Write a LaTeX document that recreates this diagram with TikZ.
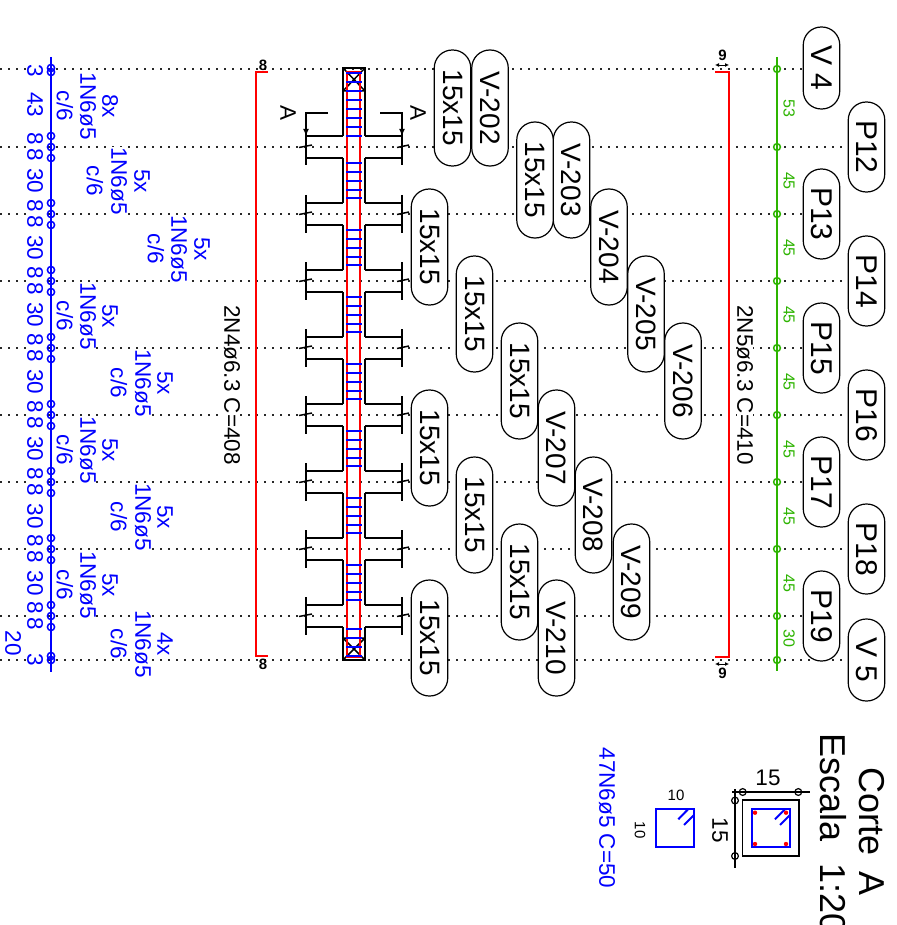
\documentclass[tikz,border=0pt]{standalone}
\usepackage{fontspec}
\setmainfont{Liberation Sans}
\usetikzlibrary{arrows.meta}
\pgfdeclarelayer{bg}
\pgfsetlayers{bg,main}
\definecolor{cadgreen}{RGB}{45,180,0}
\definecolor{dotgrey}{RGB}{40,40,40}
\tikzset{
  pill/.style n args={1}{draw=black,fill=white,line width=1.2pt,rounded corners=18pt,minimum height=36.5pt,minimum width=#1,inner sep=0pt,rotate=-90,font=\fontsize{28}{28}\selectfont},
  bigpill/.style n args={1}{pill=#1,font=\fontsize{30}{30}\selectfont},
  bluetxt/.style={text=blue,fill=white,inner sep=0pt,rotate=-90,font=\fontsize{22.5}{22.5}\selectfont},
  blacktxt/.style={text=black,fill=white,inner sep=0pt,rotate=-90,font=\fontsize{22.5}{22.5}\selectfont},
  greentxt/.style={text=cadgreen,inner sep=0pt,rotate=-90,font=\fontsize{16}{16}\selectfont},
  smalltxt/.style={text=black,inner sep=0pt,font=\fontsize{15}{15}\selectfont},
  axisdot/.style={dotgrey,line width=1.4pt,dash pattern=on 1.5pt off 6.5pt},
  struct/.style={black,line width=1.5pt},
  rebar/.style={red,line width=1.7pt},
  stirrup/.style={blue,line width=2pt},
  bluedim/.style={blue,line width=1.5pt},
  greendim/.style={cadgreen,line width=1.5pt},
}
\begin{document}
\begin{tikzpicture}[x=1pt,y=-1pt]
\useasboundingbox (0,0) rectangle (896,925);
% pillars and walls
\node[bigpill=82pt] (V4) at (821.5,68) {V 4};
\node[bigpill=90pt] (P12) at (866.5,147) {P12};
\node[bigpill=90pt] (P13) at (821.5,214) {P13};
\node[bigpill=90pt] (P14) at (866.5,281) {P14};
\node[bigpill=90pt] (P15) at (821.5,348) {P15};
\node[bigpill=90pt] (P16) at (866.5,415) {P16};
\node[bigpill=90pt] (P17) at (821.5,482) {P17};
\node[bigpill=90pt] (P18) at (866.5,549) {P18};
\node[bigpill=90pt] (P19) at (821.5,616) {P19};
\node[bigpill=82pt] (V5) at (866.5,660) {V 5};
% beams
\foreach \n/\tx/\px/\py in {202/V-202/490/108, 203/V-203/571.5/180, 204/V-204/609/247, 205/V-205/646/314, 206/V-206/683/381, 207/V-207/556.5/448, 208/V-208/593.5/515, 209/V-209/631.5/582, 210/V-210/556.5/638}
  \node[pill=116pt] (B\n) at (\px,\py) {\tx};
\foreach \n/\px/\py in {a/452.5/108, b/535/180, c/429.5/247, d/474.5/314, e/519.5/381, f/429.5/448, g/474.5/515, h/519.5/582, i/429.5/638}
  \node[pill=116pt] (S\n) at (\px,\py) {15x15};
% blue rebar text
\node[bluetxt] (t3a) at (35,71) {3};
\node[bluetxt] (t43) at (35,105) {43};
\foreach \r in {147,214,281,348,415,482,549,616}
  \node[bluetxt] (e\r) at (35,\r) {8\hspace{3pt}8};
\foreach \r in {181,248,315,382,449,516,583}
  \node[bluetxt] (th\r) at (35,\r) {30};
\node[bluetxt] (t3b) at (35,660) {3};
\node[bluetxt] (t20) at (13,643) {20};
\foreach \k/\cnt/\xa/\xb/\xc/\py in {1/8x/110/88/65/106, 2/5x/142/119/95/181, 3/5x/202/179/156/249, 4/5x/110/88/65/316, 5/5x/165/143/119/383, 6/5x/110/88/65/450, 7/5x/165/143/119/517, 8/5x/110/88/65/585, 9/4x/165/143/119/644} {
  \node[bluetxt] (ga\k) at (\xa,\py) {\cnt};
  \node[bluetxt] (gb\k) at (\xb,\py) {1N6ø5};
  \node[bluetxt] (gc\k) at (\xc,\py) {c/6};
}
% long labels
\node[blacktxt] (lbl408) at (232,385) {2N4ø6.3 C=408};
\node[blacktxt] (lbl410) at (745,385) {2N5ø6.3 C=410};
\node[smalltxt,font=\fontsize{15}{15}\selectfont\bfseries] (e8a) at (263,65) {8};
\node[smalltxt,font=\fontsize{15}{15}\selectfont\bfseries] (e8b) at (263,664) {8};
\node[smalltxt,font=\fontsize{15}{15}\selectfont\bfseries] (n9a) at (722.5,55) {9};
\node[smalltxt,font=\fontsize{15}{15}\selectfont\bfseries] (n9b) at (722.5,673) {9};
\node[blacktxt,fill=none] (secA1) at (288,113) {A};
\node[blacktxt,fill=none] (secA2) at (418,113) {A};
% green dims
\foreach \py/\tx in {108.5/53,181/45,248/45,315/45,382/45,449/45,516/45,583/45,638/30}
  \node[greentxt] (g\py) at (789,\py) {\tx};
% axis lines
\foreach \r/\p in {69/V4,147/P12,214/P13,281/P14,348/P15,415/P16,482/P17,549/P18,616/P19,660/V5} {
  \coordinate (ax\r) at (0,\r);
}
\begin{pgfonlayer}{bg}
\fill[white] (0,0) rectangle (896,925);
\draw[axisdot] (ax69) -- (ax69 -| V4.south);
\draw[axisdot] (ax147) -- (P12.south);
\draw[axisdot] (ax214) -- (P13.south);
\draw[axisdot] (ax281) -- (P14.south);
\draw[axisdot] (ax348) -- (P15.south);
\draw[axisdot] (ax415) -- (P16.south);
\draw[axisdot] (ax482) -- (P17.south);
\draw[axisdot] (ax549) -- (P18.south);
\draw[axisdot] (ax616) -- (P19.south);
\draw[axisdot] (ax660) -- (ax660 -| V5.south);
\end{pgfonlayer}
% structure outline
\draw[struct] (343,136) -- (343,68) -- (365,68) -- (365,136);
\draw[struct] (343,91) -- (365,68) (343,68) -- (365,91) (343,91) -- (365,91);
\draw[struct] (343,638) -- (365,638) (343,660) -- (365,638) (343,638) -- (365,660);
\draw[struct] (343,627) -- (343,660) -- (365,660) -- (365,627);
\foreach \r in {147,214,281,348,415,482,549,616} {
  \draw[struct] (343,\r-11) -- (306,\r-11) (343,\r+11) -- (306,\r+11);
  \draw[struct] (365,\r-11) -- (402,\r-11) (365,\r+11) -- (402,\r+11);
  \draw[struct,line width=1.5pt] (299,\r+0.5) -- (312,\r-2);
  \draw[struct,line width=1.5pt] (397,\r+0.5) -- (409,\r-2);
}
\foreach \r in {214,281,348,415,482,549,616} {
  \draw[struct] (306,\r-19) -- (306,\r+19);
  \draw[struct] (402,\r-19) -- (402,\r+19);
}
\foreach \a/\b in {158/203,225/270,292/337,359/404,426/471,493/538,560/605} {
  \draw[struct] (343,\a) -- (343,\b);
  \draw[struct] (365,\a) -- (365,\b);
}
% section marks
\draw[struct] (328,113) -- (306,113) -- (306,165);
\draw[struct] (380,113) -- (402,113) -- (402,165);
\draw[struct,-{Latex[length=7pt,width=6pt]}] (306,120) -- (306,136);
\draw[struct,-{Latex[length=7pt,width=6pt]}] (402,120) -- (402,136);
% central rebar
\draw[rebar] (347,657) -- (347,72) -- (360,72) -- (360,657) -- cycle;
\foreach \y in {73,82,91,100,109,118,127,136, 163,172,181,190,198, 230,239,248,257,265, 297,306,315,324,332, 364,373,382,391,399, 431,440,449,458,466, 498,507,516,525,533, 565,574,583,592,600, 629,638,647,656}
  \draw[stirrup] (346,\y) -- (362,\y);
% red side bars
\draw[rebar] (268,72) -- (256,72) -- (256,656) -- (268,656);
\draw[rebar] (715,72) -- (729,72) -- (729,657) -- (715,657);
\draw[black,line width=0.9pt,{Latex[length=4pt,width=4pt]}-{Latex[length=4pt,width=4pt]}] (715,65) -- (729,65);
\draw[black,line width=0.9pt,{Latex[length=4pt,width=4pt]}-{Latex[length=4pt,width=4pt]}] (715,664) -- (729,664);
% blue dim line
\draw[bluedim] (51,57) -- (51,672);
\foreach \y in {68,72,136,147,158,203,214,225,270,281,292,337,348,359,404,415,426,471,482,493,538,549,560,605,616,627,656,660}
  \draw[bluedim] (51,\y) circle (3.6pt);
% green dim line
\draw[greendim] (777,57) -- (777,671);
\foreach \y in {69,147,214,281,348,415,482,549,616,660}
  \draw[greendim] (777,\y) circle (3.4pt);
% section A detail
\node[inner sep=0pt,rotate=-90,font=\fontsize{36}{36}\selectfont,anchor=west] (corte) at (872,767) {Corte\hspace{6pt} A};
\node[inner sep=0pt,rotate=-90,font=\fontsize{36}{36}\selectfont,anchor=west] (escala) at (833,733) {Escala\hspace{12pt} 1:20};
\draw[struct] (742.7,800) rectangle (799,856);
\draw[stirrup] (752.3,809.3) rectangle (790,846.7);
\draw[stirrup] (775,819.3) -- (785,809.3) (780,825) -- (790,815);
\foreach \px/\py in {755/812.7,786/812.7,755/844,786/844}
  \fill[red] (\px,\py) circle (2.2pt);
\draw[black,line width=1.2pt] (732,792) -- (810,792) (735,789) -- (735,868);
\foreach \px/\py in {742.7/792,798.3/792,735/800.5,735/856}
  \draw[black,line width=1.2pt] (\px,\py) circle (3.4pt);
\node[smalltxt,font=\fontsize{22.5}{22.5}\selectfont] (d15a) at (768,778) {15};
\node[smalltxt,rotate=-90,font=\fontsize{22.5}{22.5}\selectfont] (d15b) at (720,830) {15};
\draw[stirrup] (656,809.3) rectangle (694,846.7);
\draw[stirrup] (678.3,819.3) -- (688,809.3) (684,825) -- (694,815);
\node[smalltxt] (d10a) at (676,795) {10};
\node[smalltxt,rotate=-90] (d10b) at (640,830) {10};
\node[bluetxt] (lbl47) at (607,818) {47N6ø5 C=50};
\end{tikzpicture}
\end{document}
